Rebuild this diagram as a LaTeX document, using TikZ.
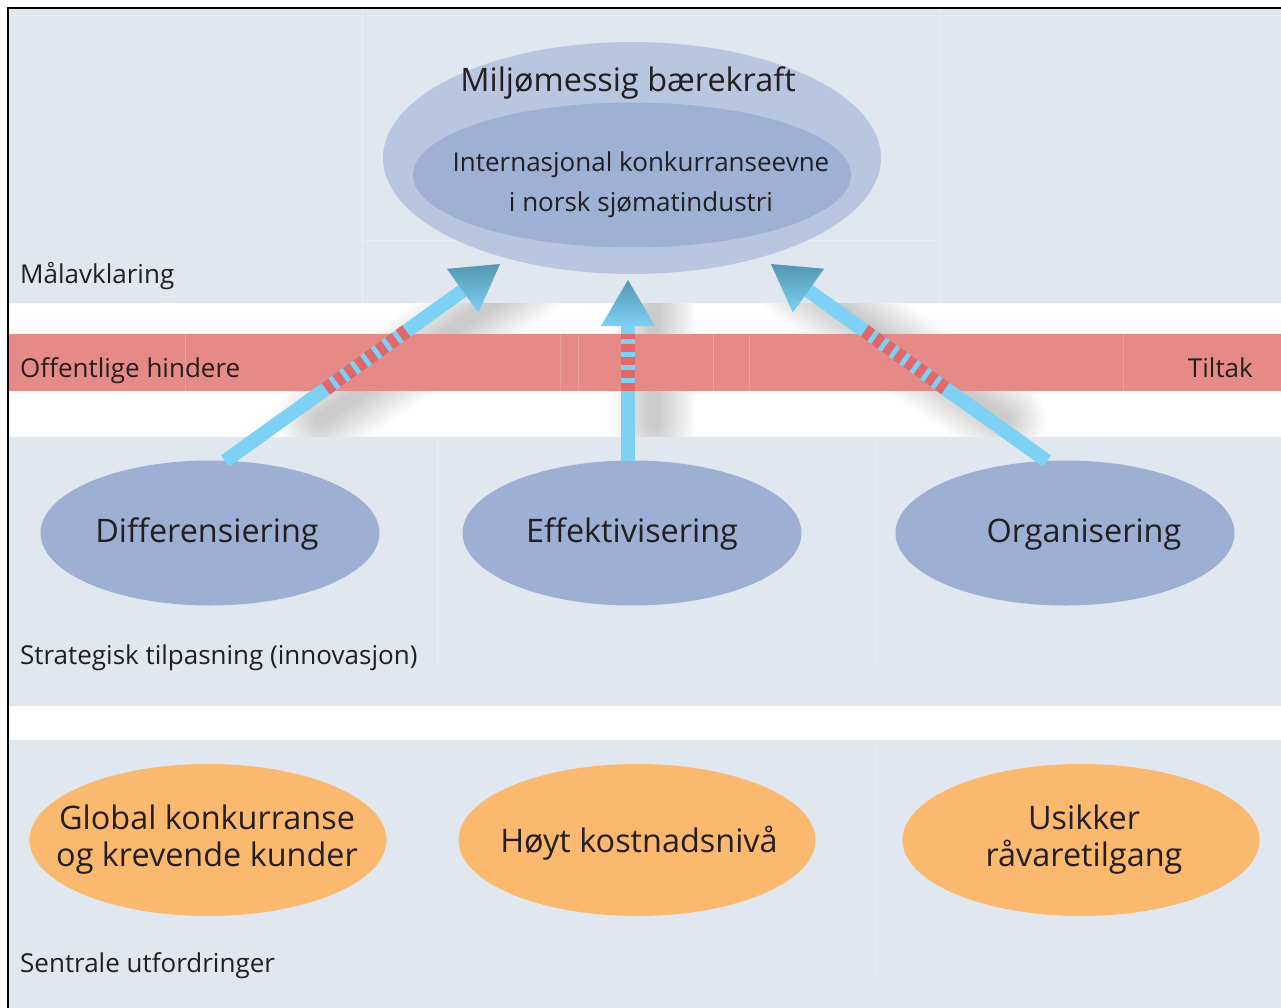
\documentclass[tikz,border=0pt]{standalone}
\usepackage{fontspec}
\setmainfont{Open Sans}
\usetikzlibrary{shapes.geometric,arrows.meta,calc}

\definecolor{panel}{HTML}{E0E7EF}
\definecolor{band}{HTML}{E58A87}
\definecolor{bandseam}{HTML}{EBA09D}
\definecolor{seam}{HTML}{E7EDF3}
\definecolor{stripe}{HTML}{E0686A}
\definecolor{arrowblue}{HTML}{7DD1F4}
\definecolor{tipblue}{HTML}{5396B1}
\definecolor{goalout}{HTML}{B9C6DF}
\definecolor{goalin}{HTML}{9EB0D3}
\definecolor{strat}{HTML}{9DAFD3}
\definecolor{chall}{HTML}{FBB86F}
\definecolor{ink}{HTML}{231F20}

% shaft, striped crossing of the band and shaded head of one arrow
% #1 start, #2 tip, #3/#4 striped part (distance from start), #5 shading angle
\newcommand{\bluearrow}[5]{%
  \coordinate (hb) at ($(#2)!46pt!(#1)$);
  \draw[arrowblue, line width=14pt] (#1) -- ($(#2)!43pt!(#1)$);
  \draw[stripe, line width=14pt, dash pattern=on 8pt off 5pt]
    ($(#1)!#3!(#2)$) -- ($(#1)!#4!(#2)$);
  \shade[shading angle=#5, top color=tipblue, middle color=arrowblue, bottom color=arrowblue]
    (#2) -- ($(hb)!27pt!90:(#2)$) -- ($(hb)!27pt!-90:(#2)$) -- cycle;
}
% soft drop shadow under an arrow
\newcommand{\arrowshadow}[2]{%
  \foreach \w in {84,78,...,12}
    \draw[black, opacity=0.017, line width=\w pt, line cap=round]
      ($(#1)!0.25!(#2)+(26,8)$) -- ($(#2)+(26,16)$);
}

\begin{document}
\begin{tikzpicture}[x=1pt, y=-1pt,
  oval/.style={ellipse, inner sep=0pt},
  areatext/.style={font=\fontsize{26}{30}\selectfont, text=ink, inner sep=0pt},
  bigtext/.style={font=\fontsize{32.4}{37}\selectfont, text=ink, inner sep=0pt, align=center},
  midtext/.style={font=\fontsize{26}{40}\selectfont, text=ink, inner sep=0pt, anchor=base}]
\useasboundingbox (0,0) rectangle (1281,1008);
\fill[white] (0,0) rectangle (1281,1008);

% arrow end points
\coordinate (dS) at (225,461);
\coordinate (dT) at (500,264);
\coordinate (eS) at (628,461);
\coordinate (eT) at (628,280);
\coordinate (oS) at (1047,461);
\coordinate (oT) at (771,264);

% shadows lie below the panels
\arrowshadow{dS}{dT}
\arrowshadow{eS}{eT}
\arrowshadow{oS}{oT}

% panels and the band
\fill[panel] (9,9) rectangle (1281,303);
\fill[band] (9,334) rectangle (1281,391);
\fill[panel] (9,437) rectangle (1281,706);
\fill[panel] (9,740) rectangle (1281,1008);

% faint seams
\foreach \x in {185,560,578,713,749,1123}
  \draw[bandseam, line width=1pt] (\x,334) -- (\x,391);
\foreach \x in {362,940}
  \draw[seam, line width=1pt] (\x,9) -- (\x,303);
\draw[seam, line width=1pt] (362,241) -- (940,241);
\foreach \x in {437,875}
  \draw[seam, line width=1pt] (\x,437) -- (\x,666);
\draw[seam, line width=1pt] (875,740) -- (875,976);

% frame
\draw[black, line width=2.5pt] (8,1008) -- (8,8) -- (1281,8);

% goal
\node[oval, fill=goalout, minimum width=498pt, minimum height=232pt] (goal) at (632,158) {};
\node[oval, fill=goalin, minimum width=438pt, minimum height=145pt] (core) at (632,175) {};
\node[bigtext, anchor=base] (goaltxt) at (628,92) {Miljømessig bærekraft};
\node[midtext] (coretxt1) at (641,172) {Internasjonal konkurranseevne};
\node[midtext] (coretxt2) at (641,212) {i norsk sjømatindustri};

% strategies
\node[oval, fill=strat, minimum width=339pt, minimum height=145pt] (diff) at (210,533) {};
\node[oval, fill=strat, minimum width=339pt, minimum height=145pt] (eff) at (632,533) {};
\node[oval, fill=strat, minimum width=339pt, minimum height=145pt] (org) at (1065,533) {};
\node[bigtext, anchor=base] (difftxt) at (207,542) {Differensiering};
\node[bigtext, anchor=base] (efftxt) at (632,542) {Effektivisering};
\node[bigtext, anchor=base] (orgtxt) at (1084,542) {Organisering};

% challenges
\node[oval, fill=chall, minimum width=357pt, minimum height=152pt] (glob) at (208,840) {};
\node[oval, fill=chall, minimum width=357pt, minimum height=152pt] (cost) at (637,840) {};
\node[oval, fill=chall, minimum width=357pt, minimum height=152pt] (raw) at (1081,840) {};
\node[bigtext] (globtxt) at (207,840) {Global konkurranse\\og krevende kunder};
\node[bigtext, anchor=base] (costtxt) at (639,852) {Høyt kostnadsnivå};
\node[bigtext] (rawtxt) at (1084,840) {Usikker\\råvaretilgang};

% area captions
\node[areatext, anchor=base west] (cap1) at (20,283) {Målavklaring};
\node[areatext, anchor=base west] (cap2) at (20,377) {Offentlige hindere};
\node[areatext, anchor=base east] (cap3) at (1253,377) {Tiltak};
\node[areatext, anchor=base west] (cap4) at (20,664) {Strategisk tilpasning (innovasjon)};
\node[areatext, anchor=base west] (cap5) at (20,972) {Sentrale utfordringer};

% arrows
\bluearrow{dS}{dT}{124pt}{226pt}{-55}
\bluearrow{eS}{eT}{70pt}{127pt}{0}
\bluearrow{oS}{oT}{125pt}{228pt}{55}
\end{tikzpicture}
\end{document}
